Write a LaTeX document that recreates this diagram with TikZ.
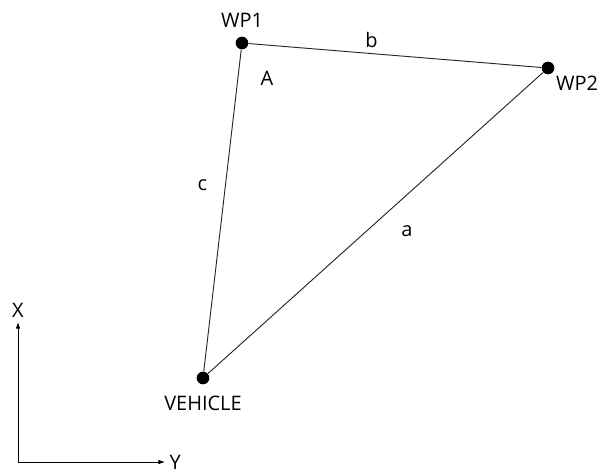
\documentclass[tikz,border=0pt]{standalone}
\usepackage{fontspec}
\setmainfont{Open Sans}
\usetikzlibrary{positioning}
\usetikzlibrary{arrows.meta}
\tikzset{
	every node/.style = {font=\fontsize{15}{17}\selectfont}
}
\tikzset{
	wp/.style = {circle, fill=black, inner sep=0pt, minimum size=9.5pt},
	leg/.style = {draw=black!85, line width=0.7pt}
}

\begin{document}
\begin{tikzpicture}[x=0.75pt, y=-0.75pt]
        \useasboundingbox (0,0) rectangle (605,472);

        % The three points of the triangle
        \node[wp] (wp1) at (242,43) {};
        \node[wp] (wp2) at (548,68) {};
        \node[wp] (veh) at (203,378) {};

        % Their names
        \node[above=3pt of wp1] (wp1l) {WP1};
        \node[below right=-1pt and -1pt of wp2] (wp2l) {WP2};
        \node[below=5pt of veh] (vehl) {VEHICLE};

        % Sides of the triangle
        \draw[leg] (wp1) -- (wp2) node[pos=0.42, above=1pt] (sb) {b};
        \draw[leg] (wp2) -- (veh) node[pos=0.46, shift={(18,20)}] (sa) {a};
        \draw[leg] (veh) -- (wp1) node[pos=0.58, left=10pt] (sc) {c};
        \node (angA) at (267,78) {A};

        % Axes at the lower left
        \coordinate (org) at (18,462);
        \coordinate (xend) at (18,322);
        \coordinate (yend) at (165,462);
        \draw[line width=0.7pt, -{Latex[length=5pt, width=3.5pt]}] (org) -- (xend);
        \draw[line width=0.7pt, -{Latex[length=5pt, width=3.5pt]}] (org) -- (yend);
        \node[above=0pt of xend] (xl) {X};
        \node[right=0pt of yend] (yl) {Y};
    \end{tikzpicture}
\end{document}
